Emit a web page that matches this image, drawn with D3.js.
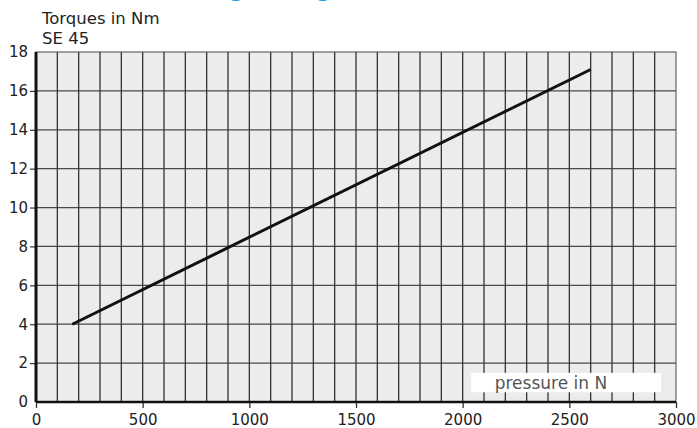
<!DOCTYPE html>
<html>
<head>
<meta charset="utf-8">
<script src="https://cdn.jsdelivr.net/npm/d3@7"></script>
<style>
  body { margin: 0; background: #fff; }
  svg text { font-family: "DejaVu Sans", sans-serif; }
</style>
</head>
<body>
<div class="chart"></div>
<script>
// data
var pressure = [170, 2600];
var torque = [4, 17.1];
var xTicks = [0, 500, 1000, 1500, 2000, 2500, 3000];
var yTicks = [0, 2, 4, 6, 8, 10, 12, 14, 16, 18];
var xGrid = d3.range(0, 3001, 100);

var margin = { top: 52, right: 21, bottom: 26, left: 36 },
    width = 697 - margin.left - margin.right,
    height = 428 - margin.top - margin.bottom;

var svg = d3.select(".chart")
    .append("svg")
    .attr("width", 697)
    .attr("height", 428);

// cut-off blue heading at the very top
svg.append("text")
    .attr("x", 209)
    .attr("y", -3)
    .style("font-size", "20px")
    .style("font-weight", "bold")
    .style("fill", "#1aa0e0")
    .text("Tightening");

var g = svg.append("g")
    .attr("transform", "translate(" + margin.left + "," + margin.top + ")");

var x = d3.scaleLinear().domain([0, 3000]).range([0, width]);
var y = d3.scaleLinear().domain([0, 18]).range([height, 0]);

g.append("rect")
    .attr("width", width)
    .attr("height", height)
    .style("fill", "#ececec")
    .attr("stroke", "#666")
    .attr("stroke-width", 1.2);

g.selectAll(".hgrid")
    .data(yTicks.slice(1, -1))
    .enter()
    .append("line")
    .attr("class", "hgrid")
    .attr("x1", 0)
    .attr("x2", width)
    .attr("y1", function (d) { return y(d); })
    .attr("y2", function (d) { return y(d); })
    .attr("stroke", "#4a4a4a")
    .attr("stroke-width", 1.2);

g.selectAll(".vgrid")
    .data(xGrid.slice(1, -1))
    .enter()
    .append("line")
    .attr("class", "vgrid")
    .attr("x1", function (d) { return x(d); })
    .attr("x2", function (d) { return x(d); })
    .attr("y1", 0)
    .attr("y2", height)
    .attr("stroke", "#333")
    .attr("stroke-width", 1.3);

// axis label box
g.append("rect")
    .attr("x", x(2040))
    .attr("y", y(1.5))
    .attr("width", x(2930) - x(2040))
    .attr("height", y(0.5) - y(1.5))
    .style("fill", "#fff");

g.append("text")
    .attr("x", x(2150))
    .attr("y", y(0.68))
    .style("font-size", "17px")
    .style("fill", "#555")
    .text("pressure in N");

var line = d3.line()
    .x(function (d, i) { return x(pressure[i]); })
    .y(function (d) { return y(d); });

g.append("path")
    .datum(torque)
    .attr("d", line)
    .attr("fill", "none")
    .attr("stroke", "#111")
    .attr("stroke-width", 3);

// axes
var xAxis = d3.axisBottom(x).tickValues(xTicks).tickSize(6).tickPadding(6).tickFormat(d3.format("d"));
var yAxis = d3.axisLeft(y).tickValues(yTicks).tickSize(6).tickPadding(2);

var gx = g.append("g").attr("transform", "translate(0," + height + ")").call(xAxis);
var gy = g.append("g").call(yAxis);

gx.select(".domain").remove();
gy.select(".domain").remove();
gx.selectAll(".tick line").attr("stroke", "#333").attr("stroke-width", 1.3);
gy.selectAll(".tick line").attr("stroke", "#333").attr("stroke-width", 1.2);
gx.selectAll("text").style("font-size", "15px").style("fill", "#222").attr("font-family", null);
gy.selectAll("text").style("font-size", "15px").style("fill", "#222").attr("font-family", null);
gy.selectAll(".tick").filter(function (d) { return d == 0 || d == 18; }).select("line").remove();

g.append("line")
    .attr("x1", 0).attr("x2", width)
    .attr("y1", height).attr("y2", height)
    .attr("stroke", "#111").attr("stroke-width", 2.5);
g.append("line")
    .attr("x1", 0).attr("x2", 0)
    .attr("y1", 0).attr("y2", height)
    .attr("stroke", "#111").attr("stroke-width", 3);

svg.append("text").attr("x", 42).attr("y", 24)
    .style("font-size", "16.5px").style("fill", "#222")
    .text("Torques in Nm");
svg.append("text").attr("x", 42).attr("y", 44)
    .style("font-size", "16.5px").style("fill", "#222")
    .text("SE 45");
</script>
</body>
</html>
